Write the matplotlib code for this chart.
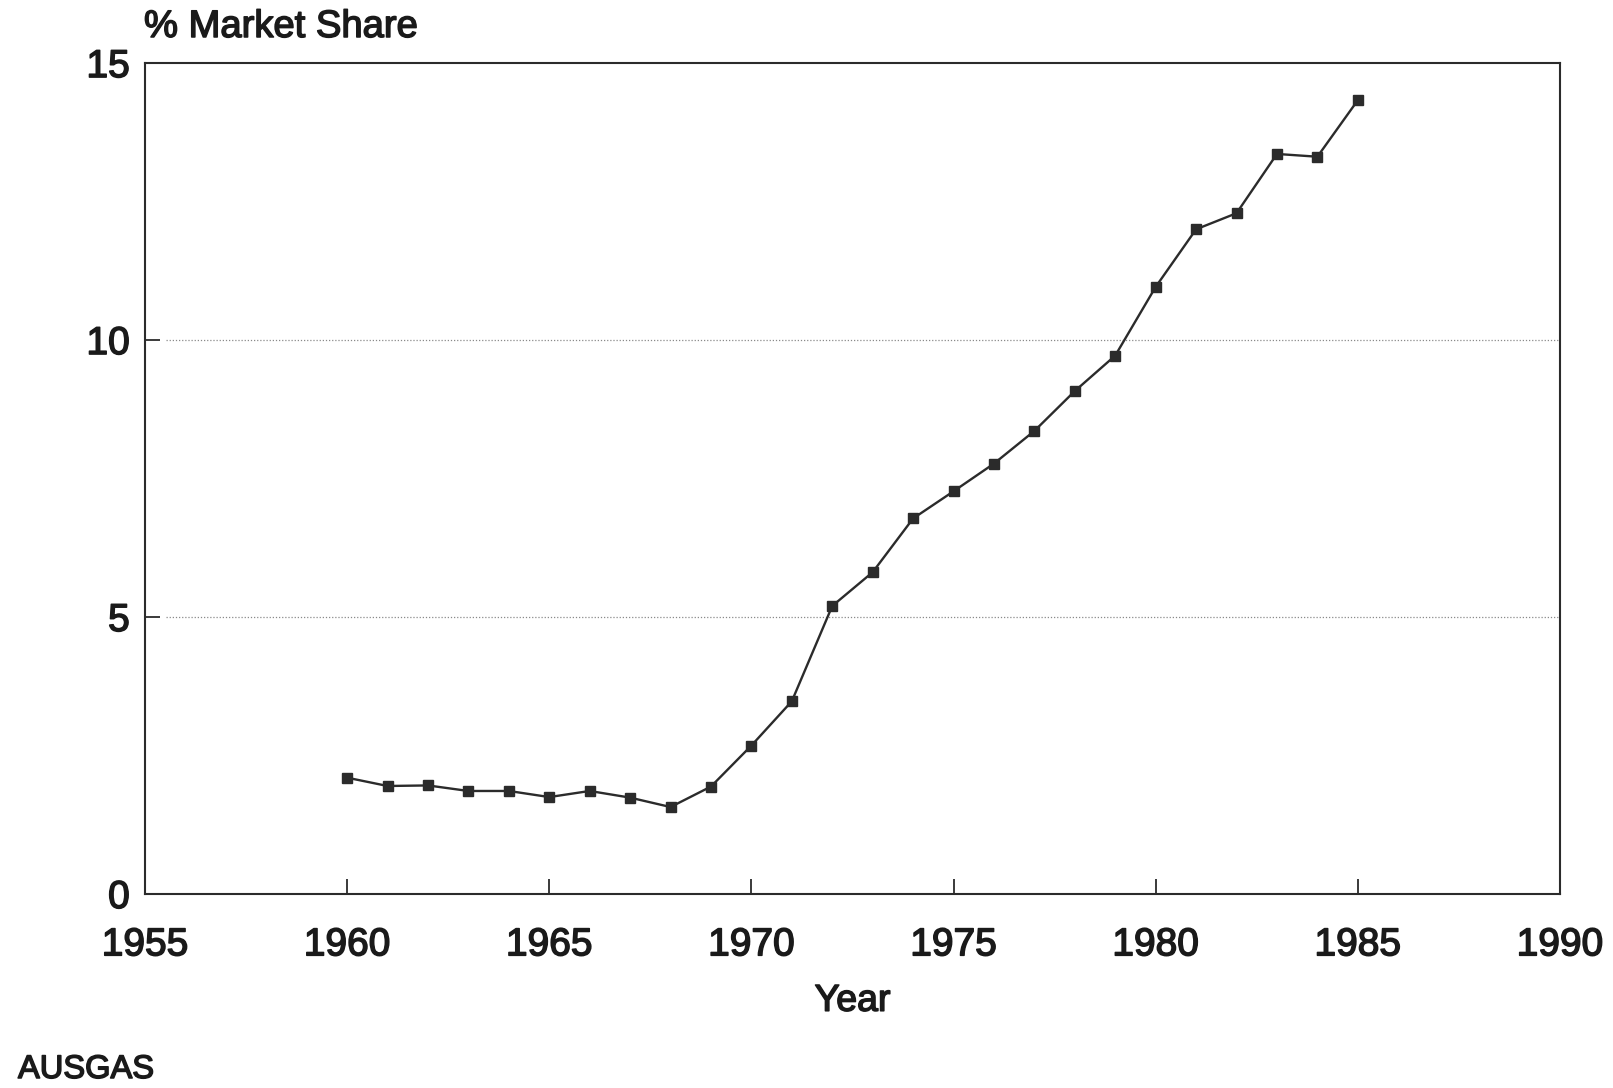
import matplotlib
matplotlib.use("Agg")
import matplotlib.pyplot as plt
import matplotlib.patheffects as pe

plt.rcParams['font.family'] = ['Liberation Sans', 'DejaVu Sans']

# Australian gas market share by year
years = [1960, 1961, 1962, 1963, 1964, 1965, 1966, 1967, 1968, 1969,
         1970, 1971, 1972, 1973, 1974, 1975, 1976, 1977, 1978, 1979,
         1980, 1981, 1982, 1983, 1984, 1985]
share = [2.10, 1.95, 1.96, 1.86, 1.86, 1.75, 1.86, 1.74, 1.57, 1.94,
         2.68, 3.48, 5.20, 5.81, 6.78, 7.27, 7.77, 8.36, 9.08, 9.72,
         10.96, 12.00, 12.29, 13.36, 13.31, 14.33]

x_ticks = [1955, 1960, 1965, 1970, 1975, 1980, 1985, 1990]
y_ticks = [0, 5, 10, 15]

ink = '#2b2b2b'
text_ink = '#1a1a1a'
# slightly heavier strokes for the printed lettering
heavy = [pe.withStroke(linewidth=1.1, foreground=text_ink)]

fig = plt.figure(figsize=(16.13, 10.88), dpi=100)
ax = fig.add_axes([0.0899, 0.1783, 0.8772, 0.7637])

ax.plot(years, share, color=ink, linewidth=1.7, marker='s',
        markersize=7.5, markerfacecolor=ink, markeredgecolor=ink, zorder=3)

ax.set_xlim(1955, 1990)
ax.set_ylim(0, 15)
ax.set_xticks(x_ticks)
ax.set_yticks(y_ticks)

# faint dotted reference lines at 5 and 10
for y in [5, 10]:
    ax.axhline(y, xmin=0.015, xmax=1.0, color='#8a8a8a', linewidth=0.9,
               linestyle=(0, (1, 1.5)), zorder=1)

for side in ['left', 'right', 'top', 'bottom']:
    ax.spines[side].set_color(ink)
    ax.spines[side].set_linewidth(1.5)

ax.tick_params(axis='x', direction='in', length=11, width=1.3, color=ink,
               labelsize=28, pad=24, labelcolor=text_ink)
ax.tick_params(axis='y', direction='in', length=11, width=1.3, color=ink,
               labelsize=28, pad=11, labelcolor=text_ink)
for lbl in ax.get_xticklabels() + ax.get_yticklabels():
    lbl.set_path_effects(heavy)

ax.set_xlabel('Year', fontsize=27, color=text_ink, labelpad=14,
              path_effects=heavy)

fig.text(144 / 1613, 1 - 37 / 1088, '% Market Share', fontsize=27.5,
         color=text_ink, ha='left', va='baseline', path_effects=heavy)
fig.text(18 / 1613, 10 / 1088, 'AUSGAS', fontsize=23.5,
         color=text_ink, ha='left', va='baseline', path_effects=heavy)

fig.savefig('out.png', dpi=100, facecolor='white')
